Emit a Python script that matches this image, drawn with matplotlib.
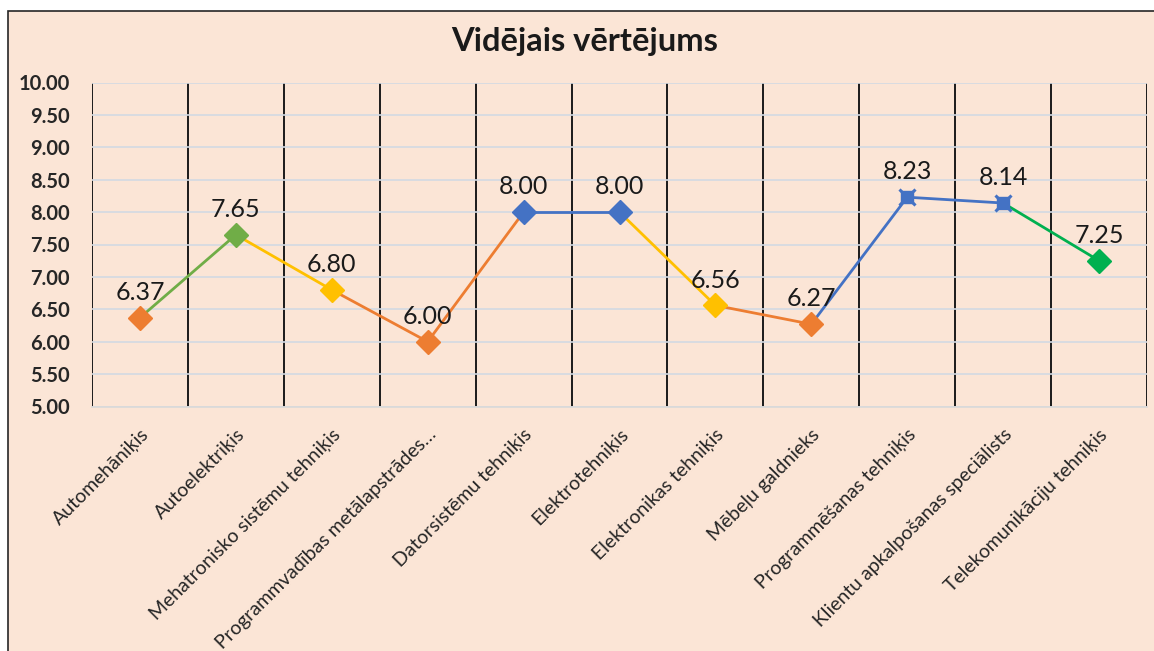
import matplotlib
matplotlib.use("Agg")
import matplotlib.pyplot as plt
from matplotlib.patches import Rectangle
import numpy as np

categories = ["Automehāniķis", "Autoelektriķis", "Mehatronisko sistēmu tehniķis",
              "Programmvadības metālapstrādes…", "Datorsistēmu tehniķis", "Elektrotehniķis",
              "Elektronikas tehniķis", "Mēbeļu galdnieks", "Programmēšanas tehniķis",
              "Klientu apkalpošanas speciālists", "Telekomunikāciju tehniķis"]
values = [6.37, 7.65, 6.80, 6.00, 8.00, 8.00, 6.56, 6.27, 8.23, 8.14, 7.25]
point_colors = ["#ED7D31", "#70AD47", "#FFC000", "#ED7D31", "#4472C4", "#4472C4",
                "#FFC000", "#ED7D31", "#4472C4", "#4472C4", "#00B050"]
point_markers = ["D", "D", "D", "D", "D", "D", "D", "D", "s", "s", "D"]
segment_colors = ["#70AD47", "#FFC000", "#ED7D31", "#ED7D31", "#4472C4",
                  "#FFC000", "#ED7D31", "#4472C4", "#4472C4", "#00B050"]
yticks = [5.0, 5.5, 6.0, 6.5, 7.0, 7.5, 8.0, 8.5, 9.0, 9.5, 10.0]
title = "Vidējais vērtējums"

plt.rcParams['font.family'] = ['Lato', 'DejaVu Sans']

W, H = 1154, 651
fig = plt.figure(figsize=(W / 100, H / 100), dpi=100, facecolor="white")
bg = "#FBE5D6"
frame = Rectangle((7.5 / W, -0.1), 1.2, 1 - 10.5 / H + 0.1, transform=fig.transFigure,
                  facecolor=bg, edgecolor="#262626", linewidth=1.2, zorder=-10)
fig.patches.append(frame)

ax = fig.add_axes([92 / W, (H - 406.5) / H, (1147 - 92) / W, (406.5 - 82.5) / H])
ax.set_zorder(5)
ax.set_facecolor(bg)
x = np.arange(len(categories))

for i in range(len(values) - 1):
    ax.plot(x[i:i + 2], values[i:i + 2], color=segment_colors[i], lw=2.0, zorder=3,
            solid_capstyle="butt")

for xi, v, c, m in zip(x, values, point_colors, point_markers):
    if m == "D":
        ax.plot(xi, v, marker="D", ms=12, color=c, mec=c, zorder=4, ls="none")
    else:
        ax.plot(xi, v, marker="s", ms=8, color=c, mec=c, zorder=4, ls="none")
        ax.plot(xi, v, marker="x", ms=11, color=c, mew=2.2, zorder=4, ls="none")
    ax.annotate(f"{v:.2f}", (xi, v), xytext=(0, 10), textcoords="offset points",
                ha="center", va="bottom", fontsize=18, color="#1a1a1a", zorder=5)

ax.set_xlim(-0.5, len(categories) - 0.5)
ax.set_ylim(yticks[0], yticks[-1])
ax.set_yticks(yticks)
ax.set_yticklabels([f"{t:.2f}" for t in yticks], fontsize=14.5, fontweight="bold", color="#262626")
ax.set_xticks(x)
ax.set_xticklabels(categories, rotation=45, ha="right", rotation_mode="anchor",
                   fontsize=14, color="#262626")
ax.set_xticks(np.arange(len(categories) + 1) - 0.5, minor=True)
ax.tick_params(axis="both", which="both", length=0)
ax.tick_params(axis="y", pad=16)
ax.tick_params(axis="x", pad=14)
ax.grid(axis="y", which="major", color="#D3DAE3", lw=1.2, zorder=1)
ax.grid(axis="x", which="minor", color="#1a1a1a", lw=1.4, zorder=2)
for s in ["top", "right", "left"]:
    ax.spines[s].set_visible(False)
ax.spines["bottom"].set_color("#D9D9D9")
ax.spines["bottom"].set_linewidth(1.2)

fig.text(585 / W, 1 - 42 / H, title, ha="center", va="center", fontsize=23.5,
         fontweight="bold", color="#1a1a1a")

fig.savefig("out.png", dpi=100, facecolor="white")
